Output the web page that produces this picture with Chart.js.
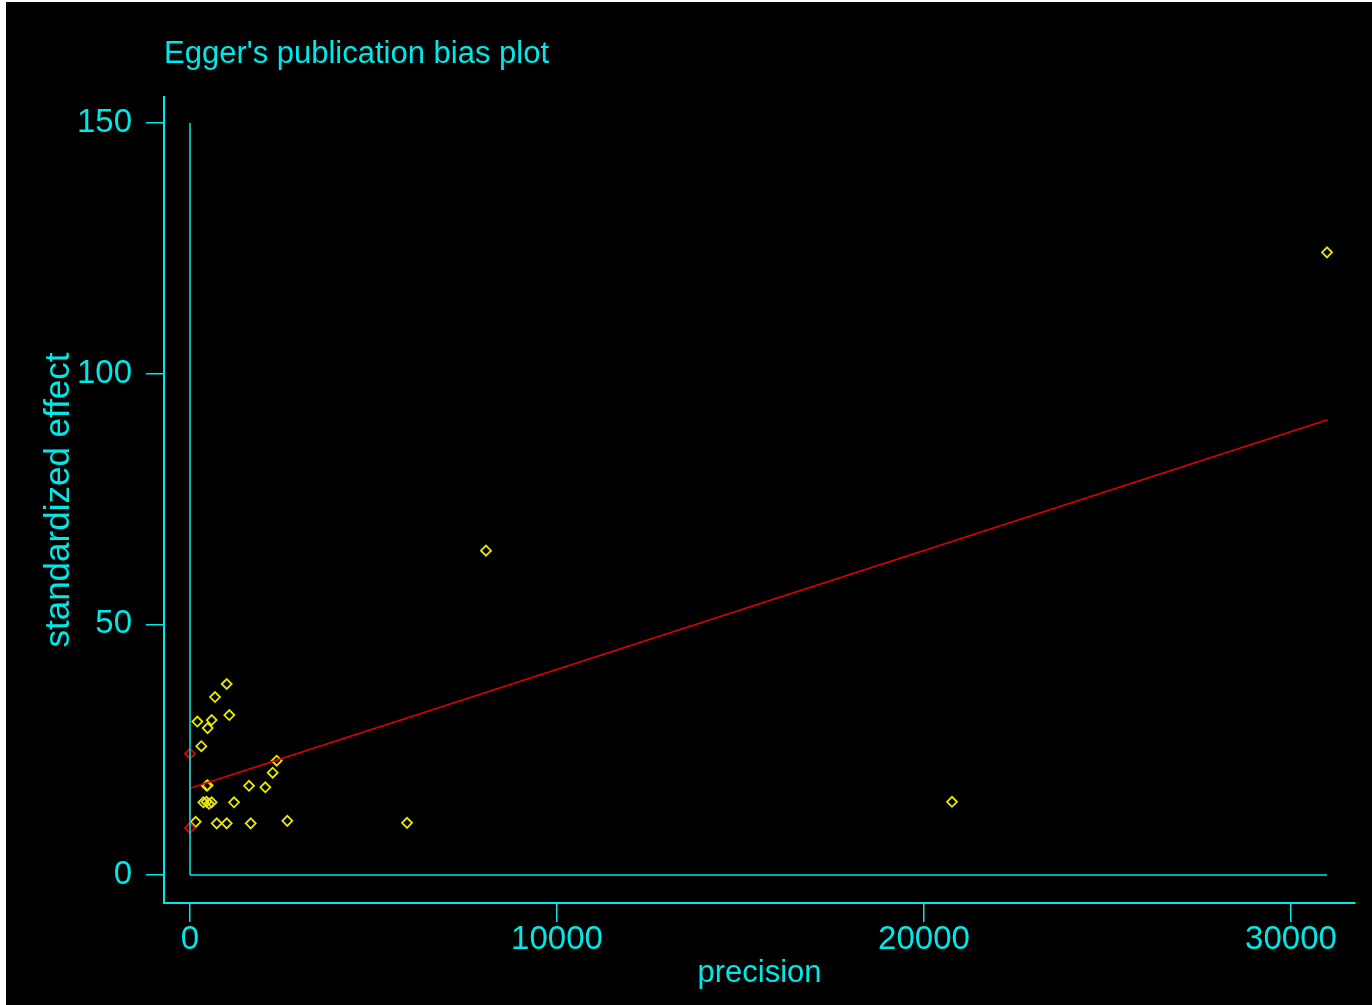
<!DOCTYPE html>
<html>
<head>
<meta charset="utf-8">
<script src="https://cdn.jsdelivr.net/npm/chart.js@4.4.0/dist/chart.umd.min.js"></script>
<style>
  html, body { margin: 0; padding: 0; background: #ffffff; }
  #wrap { position: absolute; left: 6px; top: 2px; width: 1366px; height: 1003px; background: #000; }
</style>
</head>
<body>
<div id="wrap"><canvas id="canvas" width="1366" height="1003"></canvas></div>
<script>
// studies: precision (x) and standardized effect (y)
var precision = [1000, 681, 1071, 200, 590, 481, 309, 2362, 2253, 454, 480, 1608, 2052,
                 363, 450, 518, 590, 1199, 155, 727, 1000, 1654, 2651, 5913, 8065, 20763, 30981];
var effect    = [38.1, 35.5, 31.9, 30.6, 30.9, 29.3, 25.7, 22.8, 20.4, 17.8, 17.9, 17.8, 17.5,
                 14.5, 14.6, 14.2, 14.5, 14.5, 10.6, 10.3, 10.3, 10.3, 10.8, 10.4, 64.7, 14.6, 124.2];

// Egger regression line and intercept confidence interval
var fitX = [0, 31000];
var fitY = [17.3, 90.8];
var ciX = [0, 0];
var ciY = [9.4, 24.2];

// reference axes drawn inside the plot
var zeroLineX = [0, 30981];
var zeroLineY = [0, 150];

var xTicks = [0, 10000, 20000, 30000];
var yTicks = [0, 50, 100, 150];

var cyan = "#00e8e8";
var yellow = "#e8e800";
var red = "#e00000";
var fontFam = "'Liberation Sans', Arial, sans-serif";

function pts(xs, ys){
  var out = [];
  for(var i = 0; i < xs.length; i++){
    out.push({x: xs[i], y: ys[i]});
  }
  return out;
}

var titlePlugin = {
  id: "eggerTitle",
  afterDraw: function(chart){
    var ctx = chart.ctx;
    ctx.save();
    ctx.font = "31px " + fontFam;
    ctx.fillStyle = cyan;
    ctx.textBaseline = "alphabetic";
    ctx.textAlign = "left";
    ctx.fillText("Egger's publication bias plot", chart.chartArea.left, 61);
    ctx.restore();
  }
};

var data = {
  datasets: [
    {
      label: "x=0",
      data: pts([0, 0], zeroLineY),
      showLine: true, borderColor: cyan, borderWidth: 1.5, pointRadius: 0
    },
    {
      label: "y=0",
      data: pts(zeroLineX, [0, 0]),
      showLine: true, borderColor: cyan, borderWidth: 1.5, pointRadius: 0
    },
    {
      label: "fit",
      data: pts(fitX, fitY),
      showLine: true, borderColor: red, borderWidth: 1.5, pointRadius: 0
    },
    {
      label: "ci",
      data: pts(ciX, ciY),
      showLine: true, borderColor: red, borderWidth: 1.5,
      pointStyle: "rectRot", pointRadius: 5, pointBorderColor: red,
      pointBackgroundColor: "rgba(0,0,0,0)", pointBorderWidth: 1.8
    },
    {
      label: "studies",
      data: pts(precision, effect),
      showLine: false,
      pointStyle: "rectRot", pointRadius: 5, pointBorderColor: yellow,
      pointBackgroundColor: "rgba(0,0,0,0)", pointBorderWidth: 1.8
    }
  ]
};

var options = {
  responsive: false,
  animation: false,
  layout: { padding: { top: 95, right: 17, left: 0, bottom: 0 } },
  plugins: { legend: { display: false }, tooltip: { enabled: false } },
  scales: {
    x: {
      type: "linear",
      min: -708.4, max: 31744,
      afterFit: function(s){ s.height = 102; },
      afterBuildTicks: function(s){ s.ticks = xTicks.map(function(v){ return {value: v}; }); },
      border: { display: true, color: cyan, width: 2 },
      grid: { display: true, drawOnChartArea: false, color: cyan, lineWidth: 1.5, tickLength: 19 },
      ticks: { color: cyan, font: { family: fontFam, size: 33 }, padding: -2, maxRotation: 0,
               callback: function(v){ return String(v); } },
      title: { display: true, text: "precision", color: cyan,
               font: { family: fontFam, size: 31 }, padding: { top: 0, bottom: 13 } }
    },
    y: {
      type: "linear",
      min: -5.585, max: 155.19,
      afterFit: function(s){ s.width = 158; },
      afterBuildTicks: function(s){ s.ticks = yTicks.map(function(v){ return {value: v}; }); },
      border: { display: true, color: cyan, width: 2 },
      grid: { display: true, drawOnChartArea: false, color: cyan, lineWidth: 1.5, tickLength: 18 },
      ticks: { color: cyan, font: { family: fontFam, size: 33 }, padding: 14,
               callback: function(v){ return String(v); } },
      title: { display: true, text: "standardized effect", color: cyan,
               font: { family: fontFam, size: 35 }, padding: { top: 32, bottom: 0 } }
    }
  }
};

var ctx = document.getElementById("canvas").getContext("2d");
new Chart(ctx, { type: "scatter", data: data, options: options, plugins: [titlePlugin] });
</script>
</body>
</html>
